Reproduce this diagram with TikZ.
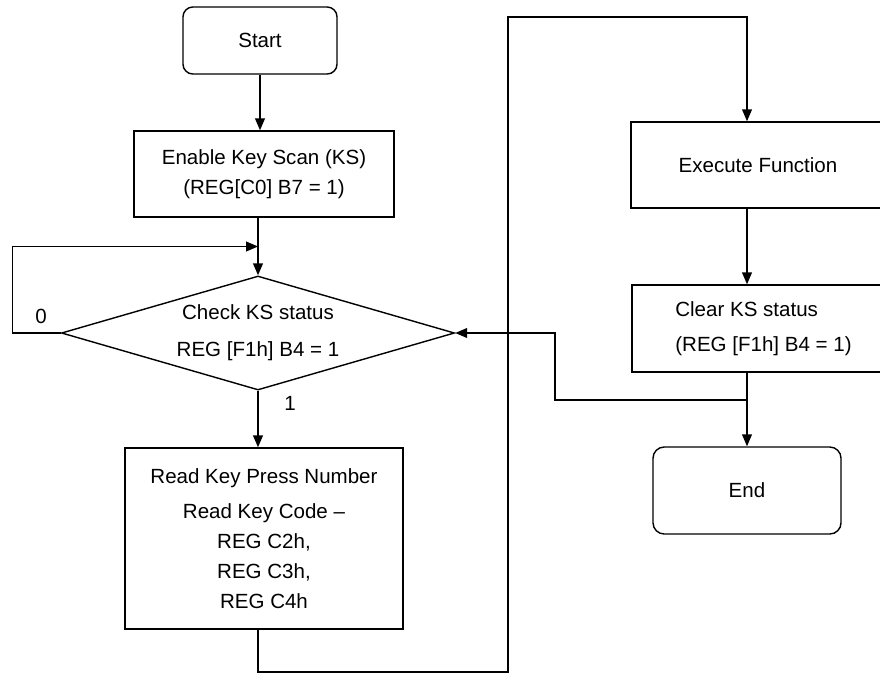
\documentclass[tikz,border=0pt]{standalone}
\usepackage{fontspec}
\setmainfont{Liberation Sans}
\usetikzlibrary{shapes.geometric,arrows.meta,positioning,calc}

\begin{document}
\begin{tikzpicture}[
  x=0.025cm, y=-0.025cm,
  font=\fontsize{14.6}{21.3}\selectfont,
  procbox/.style={draw, line width=1pt, align=center, inner sep=0pt},
  termbox/.style={draw, line width=1pt, rounded corners=7pt, align=center, inner sep=0pt},
  decbox/.style={draw, diamond, aspect=3.45, line width=1pt, align=center, inner sep=0pt,
                 minimum width=9.825cm, minimum height=2.85cm},
  ar/.style={-{Triangle[length=8.5pt,width=7pt]}, line width=1pt}
]
\useasboundingbox (0,0) rectangle (880,673);

% left column
\node[termbox, minimum width=3.85cm, minimum height=1.675cm] (start) at (260,40.5) {Start};
\node[procbox, minimum width=6.5cm, minimum height=2.15cm] (enable) at (264,174) {%
  Enable Key Scan (KS)\\ (REG[C0] B7 = 1)};
\node[decbox] (check) at (258,333) {%
  Check KS status\\[5pt] REG [F1h] B4 = 1};
\node[procbox, minimum width=6.95cm, minimum height=4.525cm] (read) at (264,538.5) {%
  Read Key Press Number\\[3.5pt] Read Key Code --\\ REG C2h,\\ REG C3h,\\ REG C4h};
\node (lbl0) at (41,316) {0};
\node (lbl1) at (290,403) {1};

% right column
\node[procbox, minimum width=6.35cm, minimum height=2.15cm] (exec) at (758,165) {Execute Function};
\node[procbox, align=left, minimum width=6.575cm, minimum height=2.175cm] (clear) at (763.5,328.5) {%
  Clear KS status\\[3.5pt] (REG [F1h] B4 = 1)};
\node[termbox, rounded corners=8pt, minimum width=4.7cm, minimum height=2.175cm] (endn) at (747,490.5) {End};

\coordinate (merge) at ($(enable.south -| check.north)!0.5!(check.north)$);
\coordinate (rbot) at (508,672);
\coordinate (rtop) at (508,17);
\coordinate (split) at (747,400);
\coordinate (jog) at (555,400);

\draw[ar] (start.south) -- (start.south |- enable.north);
\draw[ar] (enable.south -| check.north) -- (check.north);
\draw[ar] (check.west) -- ++(-48,0) |- (merge);
\draw[ar] (check.south) -- (check.south |- read.north);
\draw[ar] (read.south -| check.south) |- (rbot) -- (rtop) -| (exec.north -| endn.north);
\draw[ar] (exec.south -| endn.north) -- (clear.north -| endn.north);
\draw[ar] (clear.south -| endn.north) -- (endn.north);
\draw[ar] (split) -- (jog) |- (check.east);
\end{tikzpicture}
\end{document}
